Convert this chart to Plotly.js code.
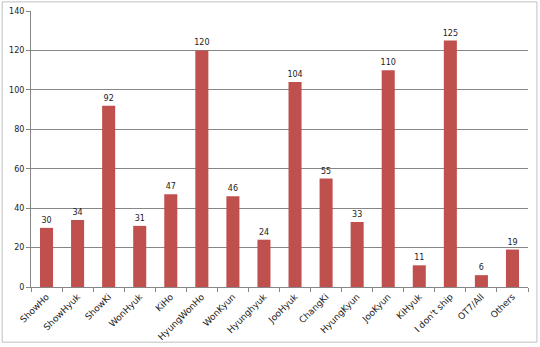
<!DOCTYPE html>
<html><head><meta charset="utf-8">
<script src="https://cdn.plot.ly/plotly-3.0.1.min.js"></script>
<style>html,body{margin:0;padding:0;background:#fff}#chart{width:540px;height:347px}</style>
</head><body><div id="chart"></div>
<script>
const categories = ["ShowHo","ShowHyuk","ShowKi","WonHyuk","KiHo","HyungWonHo","WonKyun","Hyunghyuk","JooHyuk","ChangKi","HyungKyun","JooKyun","KiHyuk","I don't ship","OT7/All","Others"];
const values = [30,34,92,31,47,120,46,24,104,55,33,110,11,125,6,19];
const yTicks = [0,20,40,60,80,100,120,140];

Plotly.newPlot('chart', [{
  type: 'bar', x: categories, y: values,
  marker: {color: '#C0504D'},
  text: values.map(String), textposition: 'outside', cliponaxis: false,
  constraintext: 'none',
  textfont: {family: 'DejaVu Sans', size: 8, color: '#222'},
  hoverinfo: 'none'
}], {
  width: 540, height: 347,
  margin: {l: 31, r: 12, t: 11, b: 60},
  paper_bgcolor: '#fff', plot_bgcolor: '#fff',
  bargap: 0.58, showlegend: false,
  xaxis: {type: 'category', tickangle: -45, tickson: 'boundaries', ticks: 'outside', ticklen: 4,
    tickcolor: '#868686', showline: true, linecolor: '#868686', linewidth: 1,
    tickfont: {family: 'DejaVu Sans', size: 9, color: '#222'}, showgrid: false},
  yaxis: {range: [0, 140], tickvals: yTicks, ticks: 'outside', ticklen: 4, tickcolor: '#868686',
    showline: true, linecolor: '#868686', showgrid: true, gridcolor: '#868686', gridwidth: 1,
    zeroline: false, tickfont: {family: 'DejaVu Sans', size: 8, color: '#222'}},
  shapes: [{type: 'rect', xref: 'paper', yref: 'paper', x0: -0.058, x1: 1.018, y0: -0.2, y1: 1.033,
    line: {color: '#BFBFBF', width: 1}}]
}, {displayModeBar: false, staticPlot: true});
</script></body></html>
